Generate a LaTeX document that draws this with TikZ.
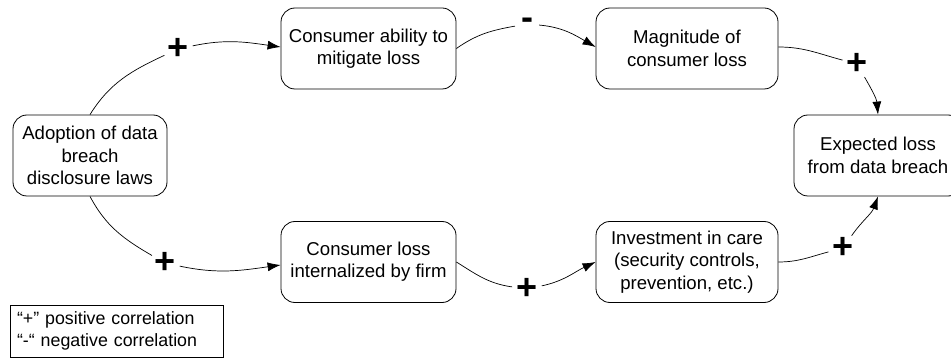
\documentclass[tikz,border=0pt]{standalone}
\usepackage{fontspec}
\setmainfont{Liberation Sans}
\usetikzlibrary{arrows.meta}
\begin{document}
\begin{tikzpicture}[x=1pt,y=1pt,
  box/.style={draw, rounded corners=14pt, line width=0.8pt, align=center, inner sep=0pt,
    font=\fontsize{18.6}{22.3}\selectfont, minimum height=81pt},
  sign/.style={circle, inner sep=0pt, minimum size=24pt, font=\fontsize{36}{36}\selectfont\bfseries},
  link/.style={line width=0.7pt},
  arr/.style={line width=0.7pt, -{Latex[length=13pt,width=9pt]}}]
\useasboundingbox (0,0) rectangle (951,-358);
% boxes
\node[box, minimum width=154pt] (adopt) at (90,-155.5) {Adoption of data\\breach\\disclosure laws};
\node[box, minimum width=175pt] (ability) at (368.5,-48.5) {Consumer ability to\\mitigate loss};
\node[box, minimum width=182pt] (mag) at (687,-48.5) {Magnitude of\\consumer loss};
\node[box, minimum width=168pt] (exp) at (878,-155.5) {Expected loss\\from data breach};
\node[box, minimum width=175pt] (loss) at (368.5,-262) {Consumer loss\\internalized by firm};
\node[box, minimum width=182pt] (inv) at (687,-262) {Investment in care\\(security controls,\\prevention, etc.)};
% signs
\node[sign] (s1) at (178,-49) {+};
\node[sign] (s2) at (527,-24) {-};
\node[sign] (s3) at (857,-64) {+};
\node[sign] (s4) at (165,-263) {+};
\node[sign] (s5) at (527,-289) {+};
\node[sign] (s6) at (843,-248) {+};
% connectors
\draw[link] (adopt.north) to[out=58,in=205] (s1);
\draw[arr] (s1) to[out=12,in=172] ([yshift=1.5pt]ability.west);
\draw[link] (ability.east) to[out=35,in=190] (s2);
\draw[arr] (s2) to[out=-5,in=150] ([yshift=1.5pt]mag.west);
\draw[link] ([yshift=1.5pt]mag.east) to[out=0,in=165] (s3);
\draw[arr] (s3) to[out=-60,in=95] (exp.north);
\draw[link] (adopt.south) to[out=-62,in=150] (s4);
\draw[arr] (s4) to[out=-12,in=188] ([yshift=-3pt]loss.west);
\draw[link] (loss.east) to[out=-32,in=172] (s5);
\draw[arr] (s5) to[out=12,in=205] (inv.west);
\draw[link] (inv.east) to[out=0,in=195] (s6);
\draw[arr] (s6) to[out=55,in=-110] (exp.south);
% legend
\node[draw, line width=0.8pt, minimum width=213pt, minimum height=52pt, inner xsep=7pt, inner ysep=0pt,
  text width=199pt, align=left,
  font=\fontsize{17.8}{21.5}\selectfont] (legend) at (116.5,-331)
  {“+” positive correlation\\“-“ negative correlation};
\end{tikzpicture}
\end{document}
